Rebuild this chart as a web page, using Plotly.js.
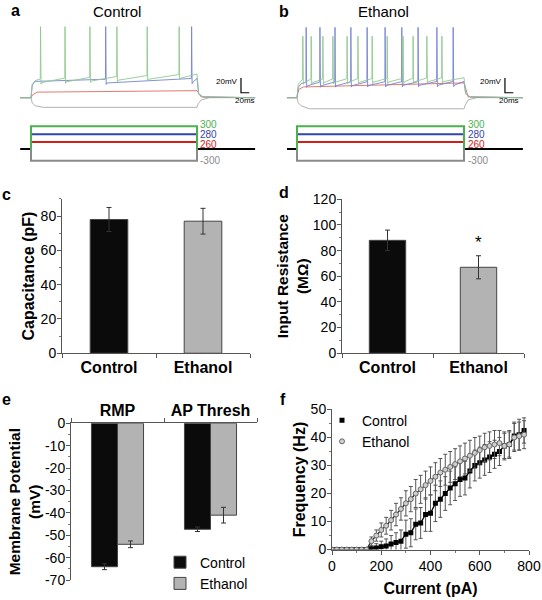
<!DOCTYPE html>
<html>
<head>
<meta charset="utf-8">
<script src="https://cdn.plot.ly/plotly-3.0.1.min.js"></script>
<style>html,body{margin:0;padding:0;background:#fff;}#chart{width:542px;height:600px;}</style>
</head>
<body>
<div id="chart"></div>
<script>
// ---------- Panel a/b: example recordings (ms, mV) ----------
const stepOnMs = 0, stepOffMs = 400, restMv = -65;
const ctrlGreenSpikes = [23, 82, 142, 207, 280, 357];
const ctrlBlueSpikes = [180, 387];
const ctrlLevels = {green: [-40, -33], blue: [-41, -39], red: [-57, -55.5], gray: -78};
const ctrlPeaks = {green: 31, blue: 31};
const ethGreenSpikes = [14, 34, 62, 86, 120, 146, 180, 216, 254, 278, 311, 347];
const ethBlueSpikes = [22, 55, 91, 129, 168, 211, 251, 290, 335, 374];
const ethLevels = {green: [-40, -38], blue: [-44, -43], red: [-50, -45], gray: -80};
const ethPeaks = {green: 18, blue: 30};
const traceSpanCtrl = [-26, 540], traceSpanEth = [-24, 541];
// command steps (pA) and their schematic rows in the drawing
const cmdLabels = ['300', '280', '260', '-300'];
const cmdRows = [3.07, 2.0, 0.93, -1.6];
const cmdColors = ['#4caf50', '#3346a8', '#d0201c', '#8a8a8a'];

// ---------- Panel c / d ----------
const groups = ['Control', 'Ethanol'];
const capacitance = [78, 77];
const capacitanceErr = [7, 7.5];
const inputRes = [88, 67];
const inputResErr = [8, 9];

// ---------- Panel e ----------
const eCats = ['RMP', 'AP Thresh'];
const eControl = [-64, -47.3];
const eControlErr = [1.3, 1];
const eEthanol = [-54, -41];
const eEthanolErr = [1.5, 3.5];
const eTickVals = [0, -10, -20, -30, -40, -50, -60, -70];
const eTickText = ['0', '-10', '-20', '-30', '-40', '-50', '-60', '-70'];

// ---------- Panel f ----------
const current = [0,20,40,60,80,100,120,140,160,180,200,220,240,260,280,300,320,340,360,380,400,420,440,460,480,500,520,540,560,580,600,620,640,660,680,700,720,740,760,780];
const fControl = [0,0,0,0,0,0,0,0,0.3,0.6,1,1.3,2,2.5,3,5.5,6,9,9.5,12.5,13,16.5,18,20,22,23.5,25,25.5,28,30,31,32,33,34,35,37,37.5,40.5,41,42.5];
const fControlErr = [0,0,0,0,0,0,0,0,1,1.5,2,2.5,3,3.5,4,5,5,5.5,5.5,6,6.5,6.5,6.5,6,6,6,6,6,6,5.5,5.5,5.5,5.5,5,5,5,5,5,5.5,4.5];
const fEthanol = [0,0,0,0,0,0,0,0,3,5,7,8.5,10.5,12.5,14.5,16.5,18,20,21.5,23,24.5,26,27.5,28.5,29.5,30.5,31.5,32.5,33.5,34.5,35.5,36.5,37,37.5,38,37,37.5,40,40.5,41];
const fEthanolErr = [0,0,0,0,0,0,0,0,1.5,2,2.5,3,3.5,4,4,4.5,4.5,5,5,5,5,5,5,5.5,5.5,5.5,5.5,5.5,5.5,5.5,5,5,5,5,4.5,4.5,4.5,5,5,5];

const FONT = 'Liberation Sans, Arial, Helvetica, sans-serif';

function spikingTrace(spikes, lv, peak, span) {
  const x = [span[0], stepOnMs], y = [restMv, restMv];
  const at = t => lv[0] + (lv[1] - lv[0]) * (t - stepOnMs) / (stepOffMs - stepOnMs);
  x.push(stepOnMs + 3, stepOnMs + 10); y.push(at(0) - 7, at(0) - 2);
  spikes.forEach(s => {
    x.push(s - 0.6, s, s + 1.2, s + 3);
    y.push(at(s), peak, at(s) - 7, at(s) - 5);
  });
  x.push(stepOffMs, stepOffMs + 4, stepOffMs + 15, span[1]);
  y.push(at(stepOffMs), restMv + 5, restMv + 1, restMv);
  return {x, y};
}
function passiveTrace(lv, span) {
  const x = [span[0], stepOnMs, stepOnMs + 4, stepOnMs + 15, stepOffMs, stepOffMs + 10, span[1]];
  const y = [restMv, restMv, lv[0] - 4, lv[0] - 0.5, lv[1], restMv + 1, restMv];
  return {x, y};
}
function hyperTrace(v, span) {
  const x = [span[0], stepOnMs, stepOnMs + 3, stepOnMs + 10, stepOnMs + 30, stepOffMs, stepOffMs + 3, stepOffMs + 10, stepOffMs + 30, span[1]];
  const y = [restMv, restMv, restMv - 7, restMv - 11, v, v, v + 5, restMv - 3, restMv, restMv];
  return {x, y};
}

const traces = [];
function addRecording(xa, ya, greenSp, blueSp, lv, peaks, span) {
  const specs = [
    [hyperTrace(lv.gray, span), '#a8a8a8'],
    [passiveTrace(lv.red, span), '#e06a60'],
    [spikingTrace(blueSp, lv.blue, peaks.blue, span), '#7583d2'],
    [spikingTrace(greenSp, lv.green, peaks.green, span), '#8fc88f']
  ];
  specs.forEach(([d, c]) => traces.push({type: 'scatter', mode: 'lines', x: d.x, y: d.y, xaxis: xa, yaxis: ya,
    line: {color: c, width: 0.9}, showlegend: false, hoverinfo: 'skip'}));
}
function addCommand(xa, ya, span) {
  traces.push({type: 'scatter', mode: 'lines', x: [span[0], stepOnMs, null, stepOffMs, span[1]], y: [0, 0, null, 0, 0],
    xaxis: xa, yaxis: ya, line: {color: '#000', width: 2}, showlegend: false, hoverinfo: 'skip'});
  [3, 2, 1, 0].forEach(i => traces.push({type: 'scatter', mode: 'lines', x: [stepOnMs, stepOnMs, stepOffMs, stepOffMs],
    y: [0, cmdRows[i], cmdRows[i], 0], xaxis: xa, yaxis: ya, line: {color: cmdColors[i], width: 2},
    showlegend: false, hoverinfo: 'skip'}));
}
addRecording('x', 'y', ctrlGreenSpikes, ctrlBlueSpikes, ctrlLevels, ctrlPeaks, traceSpanCtrl);
addCommand('x2', 'y2', traceSpanCtrl);
addRecording('x3', 'y3', ethGreenSpikes, ethBlueSpikes, ethLevels, ethPeaks, traceSpanEth);
addCommand('x4', 'y4', traceSpanEth);

// scale bars (20 mV / 20 ms)
const scaleBars = [['x', 'y', 506], ['x3', 'y3', 498]];
scaleBars.forEach(([xa, ya, t0]) => traces.push({type: 'scatter', mode: 'lines', x: [t0, t0, t0 + 20], y: [-38.3, -58.3, -58.3],
  xaxis: xa, yaxis: ya, line: {color: '#000', width: 1.2}, showlegend: false, hoverinfo: 'skip'}));

const barLine = {color: '#444', width: 1};
const errStyle = {type: 'data', visible: true, color: '#333', thickness: 1, width: 2.5};
// c
traces.push({type: 'bar', x: groups, y: capacitance, xaxis: 'x5', yaxis: 'y5', width: 0.4,
  marker: {color: ['#0b0b0b', '#b3b3b3'], line: barLine}, error_y: Object.assign({array: capacitanceErr}, errStyle), showlegend: false});
// d
traces.push({type: 'bar', x: groups, y: inputRes, xaxis: 'x6', yaxis: 'y6', width: 0.4,
  marker: {color: ['#0b0b0b', '#b3b3b3'], line: barLine}, error_y: Object.assign({array: inputResErr}, errStyle), showlegend: false});
// e
traces.push({type: 'bar', name: 'Control', x: eCats, y: eControl, xaxis: 'x7', yaxis: 'y7', width: 0.28, offset: -0.28,
  marker: {color: '#0b0b0b', line: barLine}, error_y: Object.assign({array: eControlErr}, errStyle), legend: 'legend'});
traces.push({type: 'bar', name: 'Ethanol', x: eCats, y: eEthanol, xaxis: 'x7', yaxis: 'y7', width: 0.28, offset: 0,
  marker: {color: '#b3b3b3', line: barLine}, error_y: Object.assign({array: eEthanolErr}, errStyle), legend: 'legend'});
// f
const fErr = {type: 'data', visible: true, color: '#555', thickness: 1, width: 2};
traces.push({type: 'scatter', mode: 'lines', x: current, y: fEthanol, xaxis: 'x8', yaxis: 'y8',
  line: {color: '#222', width: 1.3}, showlegend: false, hoverinfo: 'skip'});
traces.push({type: 'scatter', mode: 'lines', x: current, y: fControl, xaxis: 'x8', yaxis: 'y8',
  line: {color: '#000', width: 1.3}, showlegend: false, hoverinfo: 'skip'});
traces.push({type: 'scatter', mode: 'markers', name: 'Control', x: current, y: fControl, xaxis: 'x8', yaxis: 'y8',
  marker: {symbol: 'square', size: 5, color: '#000'}, error_y: Object.assign({array: fControlErr}, fErr), legend: 'legend2'});
traces.push({type: 'scatter', mode: 'markers', name: 'Ethanol', x: current, y: fEthanol, xaxis: 'x8', yaxis: 'y8',
  marker: {symbol: 'circle', size: 5, color: '#cfcfcf', line: {color: '#666', width: 1}}, error_y: Object.assign({array: fEthanolErr}, fErr), legend: 'legend2'});

const W = 542, H = 600;
const dx = (a, b) => [a / W, b / W];
const dy = (top, bot) => [1 - bot / H, 1 - top / H];
const hidden = {visible: false, fixedrange: true};
const tickFont = {family: FONT, size: 14, color: '#000'};
const titleFont = {family: FONT, size: 16, color: '#000', weight: 'bold'};
const catFont = {family: FONT, size: 16, color: '#000', weight: 'bold'};
function valAxis(extra) {
  return Object.assign({showline: true, linecolor: '#555', linewidth: 1, ticks: 'outside', ticklen: 4, tickcolor: '#555',
    showgrid: false, zeroline: false, tickfont: tickFont, fixedrange: true, automargin: false, ticklabelstandoff: -2}, extra);
}
function catAxis(extra) {
  return Object.assign({showline: true, linecolor: '#555', linewidth: 1, ticks: 'outside', ticklen: 4, tickcolor: '#555',
    tickson: 'boundaries', showgrid: false, zeroline: false, tickfont: catFont, fixedrange: true, automargin: false}, extra);
}
const minorTicks = extra => Object.assign({ticks: 'outside', ticklen: 2.5, tickcolor: '#777', showgrid: false}, extra);

const ann = [];
const label = (t, x, y, size, bold) => ann.push({text: t, x: x / W, y: 1 - y / H, xref: 'paper', yref: 'paper',
  showarrow: false, xanchor: 'center', yanchor: 'middle', font: {family: FONT, size: size, color: '#000', weight: bold ? 'bold' : 'normal'}});
label('a', 15, 11, 16, true);
label('Control', 117, 12, 15, false);
label('b', 284, 12, 16, true);
label('Ethanol', 383, 12, 15, false);
label('c', 6, 197, 16, true);
label('d', 284, 195, 16, true);
label('e', 6, 405, 16, true);
label('f', 283, 405, 16, true);
const cmdShift = [2, 0, -2, 0];
[['x2', 'y2'], ['x4', 'y4']].forEach(([xa, ya]) => cmdLabels.forEach((t, i) => ann.push({text: t, x: stepOffMs + 6, y: cmdRows[i],
  yshift: cmdShift[i], xref: xa, yref: ya, showarrow: false, xanchor: 'left', yanchor: 'middle', borderpad: 0,
  font: {family: FONT, size: 10, color: cmdColors[i]}})));
scaleBars.forEach(([xa, ya, t0]) => {
  ann.push({text: '20mV', x: t0 - 2, y: -43, xref: xa, yref: ya, showarrow: false, xanchor: 'right', yanchor: 'middle', font: {family: FONT, size: 8, color: '#000'}});
  ann.push({text: '20ms', x: t0 + 10, y: -60, xref: xa, yref: ya, showarrow: false, xanchor: 'center', yanchor: 'top', font: {family: FONT, size: 8, color: '#000'}});
});
ann.push({text: '*', x: 'Ethanol', y: 76, xref: 'x6', yref: 'y6', showarrow: false, yanchor: 'bottom', yshift: 2, font: {family: FONT, size: 17, color: '#000'}});

const layout = {
  width: W, height: H, margin: {l: 0, r: 0, t: 0, b: 0}, paper_bgcolor: '#fff', plot_bgcolor: 'rgba(0,0,0,0)',
  font: {family: FONT, color: '#000'}, barmode: 'group',
  xaxis: Object.assign({domain: dx(20, 260), range: [-26.5, 551.8]}, hidden),
  yaxis: Object.assign({domain: dy(20, 115), range: [-86.3, 40.3]}, hidden),
  xaxis2: Object.assign({domain: dx(20, 260), range: [-26.5, 551.8], anchor: 'y2'}, hidden),
  yaxis2: Object.assign({domain: dy(120, 170), range: [-2.53, 4.13], anchor: 'x2'}, hidden),
  xaxis3: Object.assign({domain: dx(285, 525), range: [-28.7, 546], anchor: 'y3'}, hidden),
  yaxis3: Object.assign({domain: dy(20, 115), range: [-86.3, 40.3], anchor: 'x3'}, hidden),
  xaxis4: Object.assign({domain: dx(285, 525), range: [-28.7, 546], anchor: 'y4'}, hidden),
  yaxis4: Object.assign({domain: dy(120, 170), range: [-2.53, 4.13], anchor: 'x4'}, hidden),
  xaxis5: catAxis({domain: dx(62, 250), anchor: 'y5', range: [-0.5, 1.5]}),
  yaxis5: valAxis({domain: dy(201.6, 358), anchor: 'x5', range: [0, 90], dtick: 20, minor: minorTicks({dtick: 10}),
    title: {text: 'Capacitance (pF)', font: titleFont, standoff: 2}}),
  xaxis6: catAxis({domain: dx(342, 524), anchor: 'y6', range: [-0.5, 1.5]}),
  yaxis6: valAxis({domain: dy(202, 358), anchor: 'x6', range: [0, 120], dtick: 20, minor: minorTicks({dtick: 10}),
    title: {text: 'Input Resistance<br>(MΩ)', font: {family: FONT, size: 15.5, color: '#000', weight: 'bold'}, standoff: 0}}),
  xaxis7: catAxis({domain: dx(71, 257), anchor: 'y7', side: 'top', range: [-0.5, 1.5]}),
  yaxis7: valAxis({domain: dy(429, 588), anchor: 'x7', range: [-70, 0], tickvals: eTickVals, ticktext: eTickText,
    minor: minorTicks({tickvals: [-5, -15, -25, -35, -45, -55, -65]}),
    title: {text: 'Membrane Potential<br>(mV)', font: {family: FONT, size: 15.5, color: '#000', weight: 'bold'}, standoff: 0}}),
  xaxis8: valAxis({domain: dx(332, 529), anchor: 'y8', range: [0, 800], dtick: 200, ticklabelstandoff: 0, minor: minorTicks({dtick: 100}),
    title: {text: 'Current (pA)', font: titleFont, standoff: 9}}),
  yaxis8: valAxis({domain: dy(415, 557), anchor: 'x8', range: [0, 50], dtick: 10, minor: minorTicks({dtick: 5}),
    title: {text: 'Frequency (Hz)', font: titleFont, standoff: 1}}),
  legend: {x: 160 / W, y: 1 - 554 / H, xanchor: 'left', yanchor: 'top', bgcolor: 'rgba(0,0,0,0)', font: {family: FONT, size: 14, color: '#000'},
    itemwidth: 30, tracegroupgap: 0},
  legend2: {x: 322 / W, y: 1 - 410 / H, xanchor: 'left', yanchor: 'top', bgcolor: 'rgba(0,0,0,0)', font: {family: FONT, size: 14, color: '#000'},
    itemwidth: 30, tracegroupgap: 0},
  annotations: ann
};

Plotly.newPlot('chart', traces, layout, {displayModeBar: false, staticPlot: true});
</script>
</body>
</html>
